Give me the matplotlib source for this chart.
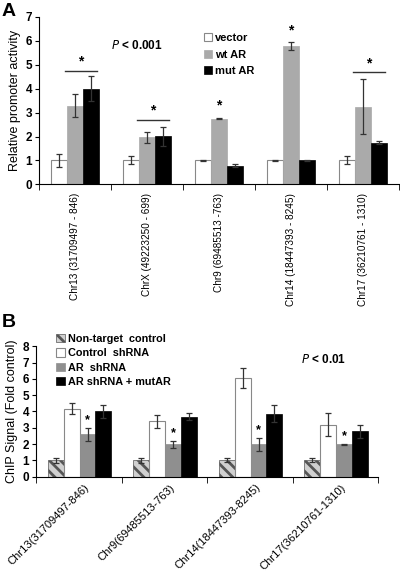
import matplotlib
matplotlib.use("Agg")
import matplotlib.pyplot as plt
import numpy as np

plt.rcParams["font.family"] = ["Liberation Sans", "DejaVu Sans"]
plt.rcParams["hatch.linewidth"] = 2.0

# Panel A data
a_labels = ["Chr13 (31709497 - 846)", "ChrX (49223250 - 699)", "Chr9 (69485513 -763)",
            "Chr14 (18447393 - 8245)", "Chr17 (36210761 - 1310)"]
a_vector = [1.0, 1.0, 1.0, 1.0, 1.02]
a_vector_err = [0.28, 0.17, 0.03, 0.02, 0.16]
a_wt = [3.29, 1.97, 2.75, 5.8, 3.25]
a_wt_err = [0.47, 0.23, 0.03, 0.17, 1.16]
a_mut = [4.0, 2.01, 0.78, 1.0, 1.74]
a_mut_err = [0.52, 0.39, 0.06, 0.02, 0.06]
a_sig_line = [4.75, 2.71, None, None, 4.7]   # bracket over wt+mut
a_star_single = [None, None, 3.0, 6.15, None]  # star above wt only

# Panel B data
b_labels = ["Chr13(31709497-846)", "Chr9(69485513-763)",
            "Chr14(18447393-8245)", "Chr17(36210761-1310)"]
b_nontarget = [1.0, 1.0, 1.0, 1.0]
b_nontarget_err = [0.13, 0.13, 0.12, 0.12]
b_control = [4.18, 3.4, 6.07, 3.2]
b_control_err = [0.34, 0.41, 0.6, 0.7]
b_ar = [2.6, 1.98, 2.0, 2.0]
b_ar_err = [0.41, 0.23, 0.4, 0.03]
b_mut = [4.0, 3.68, 3.87, 2.79]
b_mut_err = [0.39, 0.2, 0.53, 0.41]

err_kw = dict(ecolor="#333333", capsize=2.2, elinewidth=0.9, capthick=0.9)
bold = dict(fontweight="bold")

fig = plt.figure(figsize=(4.0, 5.76), dpi=100)

# ---------------- Panel A ----------------
ax = fig.add_axes([0.0975, 0.68, 0.9, 0.2905])
x = np.arange(len(a_labels))
w = 0.222
b1 = ax.bar(x - w, a_vector, w, yerr=a_vector_err, color="white", edgecolor="#888888",
            linewidth=0.8, error_kw=err_kw, label="vector")
b2 = ax.bar(x, a_wt, w, yerr=a_wt_err, color="#aaaaaa", edgecolor="#aaaaaa",
            linewidth=0.5, error_kw=err_kw, label="wt AR")
b3 = ax.bar(x + w, a_mut, w, yerr=a_mut_err, color="black", edgecolor="black",
            linewidth=0.5, error_kw=err_kw, label="mut AR")

for i, y in enumerate(a_sig_line):
    if y is not None:
        ax.plot([x[i] - w * 0.6, x[i] + w * 1.35], [y, y], color="#333333", lw=1.0)
        ax.text(x[i] + w * 0.37, y + 0.08, "*", ha="center", va="bottom", fontsize=10, **bold)
for i, y in enumerate(a_star_single):
    if y is not None:
        ax.text(x[i], y, "*", ha="center", va="bottom", fontsize=10, **bold)

ax.set_xlim(-0.5, len(a_labels) - 0.5)
ax.set_ylim(0, 7)
ax.set_yticks(range(0, 8))
ax.set_xticks(x)
ax.set_xticklabels(a_labels, rotation=90, fontsize=7.2)
ax.tick_params(axis="x", length=0, pad=6)
ax.set_xticks(np.arange(-0.5, len(a_labels)), minor=True)
ax.tick_params(axis="x", which="minor", length=4, direction="out")
ax.tick_params(axis="y", labelsize=8.5, length=3, pad=2)
for t in ax.get_yticklabels():
    t.set_fontweight("bold")
ax.set_ylabel("Relative promoter activity", fontsize=9, labelpad=3)
for s in ["top", "right"]:
    ax.spines[s].set_visible(False)
ax.text(0.2, 0.81, "$\\bf{\\it{P}}$ < 0.001", transform=ax.transAxes, fontsize=8.5, **bold)
ax.legend(handles=[b1, b2, b3], loc="upper left", bbox_to_anchor=(0.43, 0.965),
          frameon=False, prop={"weight": "bold", "size": 8},
          handlelength=0.7, handleheight=0.7, handletextpad=0.3, labelspacing=0.6)
fig.text(0.005, 0.995, "A", fontsize=14, va="top", ha="left", **bold)

# ---------------- Panel B ----------------
bx = fig.add_axes([0.09, 0.1724, 0.855, 0.2264])
x2 = np.arange(len(b_labels))
w2 = 0.185
off = 0.01
c1 = bx.bar(x2 - 1.5 * w2 + off, b_nontarget, w2, yerr=b_nontarget_err, color="#d0d0d0",
            edgecolor="#555555", hatch="\\\\\\", linewidth=0.5, error_kw=err_kw,
            label="Non-target  control")
c2 = bx.bar(x2 - 0.5 * w2 + off, b_control, w2, yerr=b_control_err, color="white",
            edgecolor="#888888", linewidth=0.8, error_kw=err_kw, label="Control  shRNA")
c3 = bx.bar(x2 + 0.5 * w2 + off, b_ar, w2, yerr=b_ar_err, color="#8f8f8f",
            edgecolor="#8f8f8f", linewidth=0.5, error_kw=err_kw, label="AR  shRNA")
c4 = bx.bar(x2 + 1.5 * w2 + off, b_mut, w2, yerr=b_mut_err, color="black",
            edgecolor="black", linewidth=0.5, error_kw=err_kw, label="AR shRNA + mutAR")
for i in range(len(b_labels)):
    bx.text(x2[i] + 0.5 * w2 + off, b_ar[i] + b_ar_err[i] + 0.1, "*", ha="center",
            va="bottom", fontsize=9, **bold)

bx.set_xlim(-0.5, len(b_labels) - 0.5)
bx.set_ylim(0, 8)
bx.set_yticks(range(0, 9))
bx.set_xticks(x2 + 0.06)
bx.set_xticklabels(b_labels, rotation=45, ha="right", rotation_mode="anchor", fontsize=8)
bx.tick_params(axis="x", length=0, pad=4)
bx.set_xticks(np.arange(-0.5, len(b_labels)), minor=True)
bx.tick_params(axis="x", which="minor", length=4, direction="out")
bx.tick_params(axis="y", labelsize=8.5, length=3, pad=2)
for t in bx.get_yticklabels():
    t.set_fontweight("bold")
bx.set_ylabel("ChIP Signal (Fold control)", fontsize=9, labelpad=3)
for s in ["top", "right"]:
    bx.spines[s].set_visible(False)
bx.text(0.775, 0.9, "$\\bf{\\it{P}}$ < 0.01", transform=bx.transAxes, fontsize=8.5,
        va="center", **bold)
bx.legend(handles=[c1, c2, c3, c4], loc="upper left", bbox_to_anchor=(0.03, 1.17),
          frameon=False, prop={"weight": "bold", "size": 7.8},
          handlelength=0.8, handleheight=0.8, handletextpad=0.3, labelspacing=0.4)
fig.text(0.005, 0.455, "B", fontsize=14, va="top", ha="left", **bold)

fig.savefig("out.png", dpi=100)
